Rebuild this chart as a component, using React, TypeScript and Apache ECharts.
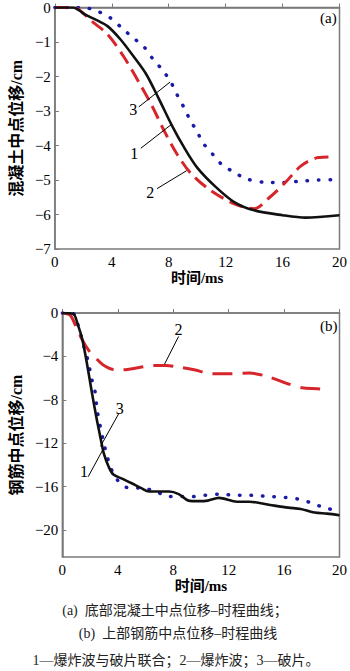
import React, { useEffect, useRef } from "react";
import * as echarts from "echarts";

// ---- chart (a): bottom concrete midpoint displacement (cm) vs time (ms)
const a1Time = [0, 1.3, 1.7, 2.1, 2.9, 3.7, 4.6, 5.5, 6.4, 7.3, 8.2, 9.1, 10.0, 11.3, 12.6, 14.0, 16.0, 17.6, 20];
const a1Disp = [0, 0, -0.08, -0.2, -0.36, -0.54, -0.92, -1.4, -1.92, -2.64, -3.4, -4.07, -4.64, -5.2, -5.64, -5.88, -6.02, -6.09, -6.02];
const a2Time = [0, 1.3, 2.6, 3.7, 4.8, 5.9, 6.8, 7.7, 8.6, 9.5, 10.8, 12.6, 14.0, 15.1, 16.2, 17.3, 18.5, 19.5];
const a2Disp = [0, 0, -0.4, -0.78, -1.4, -2.16, -2.83, -3.59, -4.26, -4.78, -5.26, -5.69, -5.83, -5.5, -5.07, -4.59, -4.35, -4.33];
const a3Time = [0, 2.0, 3.0, 3.9, 4.7, 5.5, 6.2, 6.9, 7.6, 8.2, 8.6, 9.1, 9.5, 10.0, 10.4, 11.1, 11.7, 12.6, 13.5, 14.9, 16.0, 17.1, 18.5, 19.8];
const a3Disp = [0, 0, -0.11, -0.3, -0.59, -0.88, -1.11, -1.5, -1.83, -2.2, -2.54, -2.92, -3.26, -3.6, -3.92, -4.26, -4.54, -4.78, -4.97, -5.07, -5.07, -5.04, -5.0, -4.99];
const aLabelNames = ["3", "1", "2"];
const aLabelAt = [[5.5, -2.96], [5.57, -4.22], [6.71, -5.36]];
const aLeaders = [
  [[5.9, -2.88], [8.1, -2.16]],
  [[6.04, -4.08], [8.19, -3.39]],
  [[7.18, -5.25], [9.26, -4.73]],
];

// ---- chart (b): top rebar midpoint displacement (cm) vs time (ms)
const b1Time = [0, 0.78, 1.1, 1.45, 1.78, 2.1, 2.45, 2.79, 3.0, 3.35, 3.68, 4.35, 5.0, 5.7, 6.24, 7.7, 8.4, 9.1, 9.8, 10.5, 11.3, 12.6, 13.5, 15.0, 16.3, 17.2, 18.2, 19.1, 20];
const b1Disp = [0, -0.06, -1.0, -2.5, -4.7, -7.1, -9.6, -11.75, -13.0, -14.2, -14.9, -15.3, -15.7, -16.15, -16.46, -16.46, -16.7, -17.3, -17.35, -17.3, -17.05, -17.4, -17.4, -17.7, -17.95, -18.07, -18.4, -18.5, -18.65];
const b2Time = [0, 0.56, 1.0, 1.45, 1.9, 2.34, 2.9, 3.68, 4.35, 5.46, 6.58, 7.47, 8.36, 9.5, 10.8, 12.2, 13.5, 14.8, 16.2, 17.3, 18.4, 19.3];
const b2Disp = [0, -0.2, -1.3, -2.5, -3.45, -4.06, -4.74, -5.2, -5.23, -5.05, -4.83, -4.83, -4.98, -5.23, -5.6, -5.6, -5.54, -5.85, -6.5, -6.9, -6.98, -7.08];
const b3Time = [0, 0.78, 1.23, 1.56, 1.85, 2.12, 2.34, 2.52, 2.74, 2.97, 3.19, 3.46, 3.7, 4.1, 4.7, 5.7, 6.64, 7.63, 8.57, 9.4, 10.3, 11.4, 12.35, 13.3, 14.05, 15.05, 16.06, 17.05, 17.94, 18.7, 19.7];
const b3Disp = [0, -0.06, -1.6, -3.1, -4.4, -6.1, -7.1, -9.0, -10.5, -11.9, -13.0, -14.2, -14.8, -15.6, -16.1, -16.15, -16.4, -16.9, -16.93, -16.93, -16.8, -16.7, -16.8, -16.8, -16.84, -16.93, -17.0, -17.17, -17.5, -17.86, -18.2];
const bLabelNames = ["2", "3", "1"];
const bLabelAt = [[8.39, -1.48], [4.14, -8.77], [1.56, -14.63]];
const bLeaders = [
  [[8.39, -2.16], [7.38, -4.7]],
  [[4.09, -9.23], [2.75, -12.3]],
  [[1.86, -15.1], [2.97, -12.5]],
];

const bYTicks = [0, -4, -8, -12, -16, -20];

const captions = [
  "(a)  底部混凝土中点位移–时程曲线；",
  "(b)  上部钢筋中点位移–时程曲线",
  "1—爆炸波与破片联合；2—爆炸波；3—破片。",
];

const SERIF = "'Liberation Serif', 'Noto Sans CJK SC', serif";
const BLACK = "#111111";
const RED = "#d6262b";
const BLUE = "#1a1aa6";
const AXIS = "#7a7a7a";

const zip = (xs: number[], ys: number[]) => xs.map((x, i) => [x, ys[i]]);
const minus = (v: number) => String(v).replace("-", "−");

export default function App() {
  const ref = useRef<HTMLDivElement>(null);
  useEffect(() => {
    if (!ref.current) return;
    const chart = echarts.init(ref.current, undefined, { renderer: "svg" });

    const xAxisBase = (gridIndex: number, gap: number) => ({
      type: "value",
      gridIndex,
      min: 0,
      max: 20,
      interval: 4,
      name: "时间/ms",
      nameLocation: "middle",
      nameGap: gap,
      nameTextStyle: { fontFamily: SERIF, fontSize: 15, fontWeight: "bold", color: "#000" },
      axisLine: { lineStyle: { color: AXIS, width: 1.5 } },
      axisTick: { inside: true, length: 4, lineStyle: { color: AXIS } },
      axisLabel: { fontFamily: SERIF, fontSize: 15, color: "#000", margin: 5 },
      splitLine: { show: false },
    });
    const yAxisCommon = {
      type: "value",
      nameLocation: "middle",
      nameGap: 20,
      nameRotate: 90,
      nameTextStyle: { fontFamily: SERIF, fontSize: 16, fontWeight: "bold", color: "#000" },
      axisLine: { show: true, lineStyle: { color: AXIS, width: 1.5 } },
      axisTick: { show: true, inside: true, length: 4, lineStyle: { color: AXIS } },
      splitLine: { show: false },
    };

    const leaderSeries = (leaders: number[][][], xi: number) =>
      leaders.map((seg) => ({
        type: "line",
        xAxisIndex: xi,
        yAxisIndex: xi,
        data: seg,
        symbol: "none",
        silent: true,
        lineStyle: { color: "#000", width: 1 },
      }));
    const labelSeries = (names: string[], at: number[][], xi: number) => ({
      type: "scatter",
      xAxisIndex: xi,
      yAxisIndex: xi,
      symbolSize: 0.01,
      silent: true,
      itemStyle: { color: "#000", opacity: 1 },
      data: at.map((p, i) => ({ value: [p[0], p[1]], name: names[i] })),
      label: {
        show: true,
        position: "inside",
        formatter: (p: any) => p.name,
        fontFamily: SERIF,
        fontSize: 16,
        color: "#000",
        opacity: 1,
        textBorderWidth: 0,
      },
    });
    const solid = (data: number[][], xi: number) => ({
      type: "line", xAxisIndex: xi, yAxisIndex: xi, data, symbol: "none", smooth: 0.3,
      lineStyle: { color: BLACK, width: 2.6 },
    });
    const dashed = (data: number[][], xi: number, dash: number[]) => ({
      type: "line", xAxisIndex: xi, yAxisIndex: xi, data, symbol: "none", smooth: 0.3,
      lineStyle: { color: RED, width: 3, type: dash },
    });
    const dotted = (data: number[][], xi: number) => ({
      type: "line", xAxisIndex: xi, yAxisIndex: xi, data, symbol: "none", smooth: 0.3,
      lineStyle: { color: BLUE, width: 3.5, type: [0.5, 11], cap: "round" },
    });

    chart.setOption({
      animation: false,
      backgroundColor: "#ffffff",
      grid: [
        { left: 45, top: 4, right: 7, height: 245, show: true, borderColor: AXIS, borderWidth: 1.5, backgroundColor: "transparent" },
        { left: 45, top: 313, right: 7, height: 244, show: true, borderColor: AXIS, borderWidth: 1.5, backgroundColor: "transparent" },
      ],
      xAxis: [xAxisBase(0, 21), xAxisBase(1, 21)],
      yAxis: [
        {
          ...yAxisCommon,
          gridIndex: 0,
          min: -7,
          max: 0,
          interval: 1,
          name: "混凝土中点位移/cm",
          axisLabel: { fontFamily: SERIF, fontSize: 15, color: "#000", margin: 4, formatter: (v: number) => minus(v) },
        },
        {
          ...yAxisCommon,
          gridIndex: 1,
          min: -22.5,
          max: 0,
          name: "钢筋中点位移/cm",
          axisTick: { show: true, inside: true, length: 4, lineStyle: { color: AXIS }, customValues: bYTicks },
          axisLabel: { fontFamily: SERIF, fontSize: 15, color: "#000", margin: 4, customValues: bYTicks, formatter: (v: number) => minus(v) },
        },
      ],
      graphic: [
        { type: "text", left: 320, top: 10, style: { text: "(a)", font: `15px ${SERIF}`, fill: "#000" } },
        { type: "text", left: 320, top: 318, style: { text: "(b)", font: `15px ${SERIF}`, fill: "#000" } },
        { type: "text", x: 175, y: 610, style: { text: captions[0], font: `14px ${SERIF}`, fill: "#222", align: "center", verticalAlign: "middle" } },
        { type: "text", x: 178, y: 633, style: { text: captions[1], font: `14px ${SERIF}`, fill: "#222", align: "center", verticalAlign: "middle" } },
        { type: "text", x: 176, y: 660, style: { text: captions[2], font: `14px ${SERIF}`, fill: "#222", align: "center", verticalAlign: "middle" } },
      ],
      series: [
        dotted(zip(a3Time, a3Disp), 0),
        dashed(zip(a2Time, a2Disp), 0, [14, 7]),
        solid(zip(a1Time, a1Disp), 0),
        ...leaderSeries(aLeaders, 0),
        labelSeries(aLabelNames, aLabelAt, 0),
        dotted(zip(b3Time, b3Disp), 1),
        dashed(zip(b2Time, b2Disp), 1, [20, 10]),
        solid(zip(b1Time, b1Disp), 1),
        ...leaderSeries(bLeaders, 1),
        labelSeries(bLabelNames, bLabelAt, 1),
      ],
    } as any);

    return () => chart.dispose();
  }, []);

  return <div ref={ref} style={{ position: "absolute", left: 0, top: 0, width: 350, height: 671 }} />;
}
